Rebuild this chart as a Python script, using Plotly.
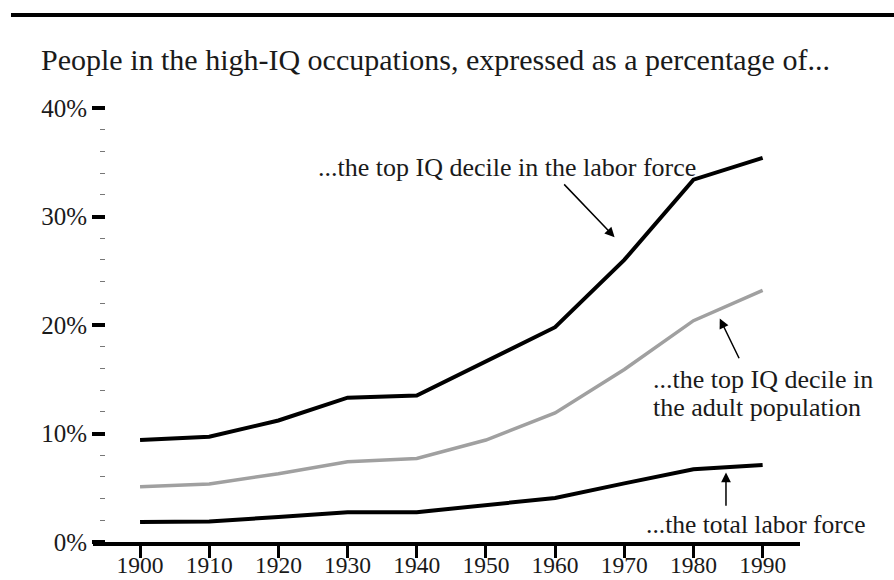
import plotly.graph_objects as go

years = [1900, 1910, 1920, 1930, 1940, 1950, 1960, 1970, 1980, 1990]
top_decile_labor = [9.4, 9.7, 11.2, 13.3, 13.5, 16.6, 19.8, 26.0, 33.4, 35.4]
top_decile_adult = [5.1, 5.35, 6.3, 7.4, 7.7, 9.4, 11.9, 15.9, 20.4, 23.2]
total_labor = [1.85, 1.9, 2.3, 2.75, 2.75, 3.4, 4.05, 5.4, 6.7, 7.1]

y_tick_vals = [0, 10, 20, 30, 40]
y_tick_text = ["0%", "10%", "20%", "30%", "40%"]

title_text = "People in the high-IQ occupations, expressed as a percentage of..."
label_labor = "...the top IQ decile in the labor force"
label_adult_1 = "...the top IQ decile in"
label_adult_2 = "the adult population"
label_total = "...the total labor force"

FONT = "Liberation Serif, Times New Roman, serif"
TXT = "#1a1a1a"

fig = go.Figure()
fig.add_trace(go.Scatter(x=years, y=top_decile_labor, mode="lines",
                         line=dict(color="#000000", width=4), hoverinfo="skip"))
fig.add_trace(go.Scatter(x=years, y=top_decile_adult, mode="lines",
                         line=dict(color="#a0a0a0", width=3.5), hoverinfo="skip"))
fig.add_trace(go.Scatter(x=years, y=total_labor, mode="lines",
                         line=dict(color="#000000", width=4), hoverinfo="skip"))

# text labels
lab = dict(showarrow=False, xanchor="left", yanchor="middle",
           font=dict(size=26, family=FONT, color=TXT))
fig.add_annotation(x=1925.4, y=34.56, text=label_labor, **lab)
fig.add_annotation(x=1973.8, y=15.02, text=label_adult_1, **lab)
fig.add_annotation(x=1973.8, y=12.44, text=label_adult_2, **lab)
fig.add_annotation(x=1972.8, y=1.57, text=label_total,
                   **{**lab, "font": dict(size=25.5, family=FONT, color=TXT)})

# arrows
arrow_style = dict(showarrow=True, text="", arrowhead=2, arrowsize=1.3,
                   arrowwidth=1.5, arrowcolor="#000000", axref="x", ayref="y")
fig.add_annotation(x=1968.6, y=28.1, ax=1961.1, ay=33.1, **arrow_style)
fig.add_annotation(x=1983.8, y=20.6, ax=1986.7, ay=16.8, **arrow_style)
fig.add_annotation(x=1984.7, y=6.4, ax=1984.7, ay=3.2, **arrow_style)

# top rule
fig.add_shape(type="line", xref="paper", yref="paper", x0=-0.116, x1=1.2,
              y0=1.1925, y1=1.1925, line=dict(color="#000000", width=4))

fig.update_layout(
    width=894, height=580,
    margin=dict(l=93, r=94, t=100, b=38),
    paper_bgcolor="white", plot_bgcolor="white",
    showlegend=False,
    font=dict(family=FONT, color=TXT, size=24),
    title=dict(text=title_text, x=41 / 894, xref="container", xanchor="left",
               y=1 - 59 / 580, yref="container", yanchor="middle",
               font=dict(family=FONT, size=30, color=TXT)),
    xaxis=dict(range=[1893.2, 1995.4], domain=[0, 1], automargin=False,
               tickmode="array", tickvals=years, ticktext=[str(y) for y in years],
               ticks="outside", ticklen=12, tickwidth=2.5, tickcolor="#000000",
               ticklabelstandoff=-13,
               showline=True, linecolor="#000000", linewidth=3.5,
               showgrid=False, zeroline=False,
               tickfont=dict(size=23.5, family=FONT, color=TXT)),
    yaxis=dict(range=[0, 40.74], anchor="free", position=12 / 707, automargin=False,
               tickmode="array", tickvals=y_tick_vals, ticktext=y_tick_text,
               ticks="outside", ticklen=13, tickwidth=3.5, tickcolor="#000000",
               minor=dict(dtick=2, ticks="outside", ticklen=5, tickwidth=1.2,
                          tickcolor="#777777", showgrid=False),
               showline=False, showgrid=False, zeroline=False,
               tickfont=dict(size=25, family=FONT, color=TXT)),
)

fig.write_html("out.html", config={"displayModeBar": False},
               post_script="document.body.style.margin='0';")
